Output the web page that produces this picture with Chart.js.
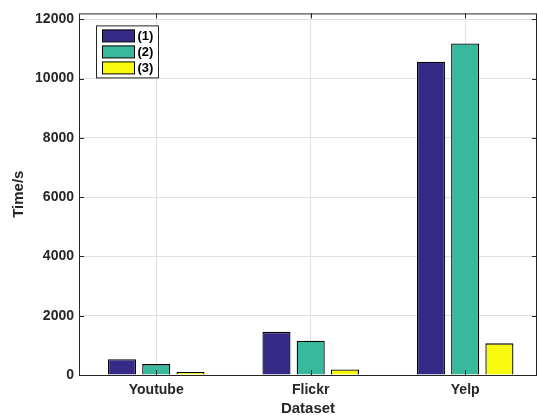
<!DOCTYPE html>
<html>
<head>
<meta charset="utf-8">
<script src="https://cdn.jsdelivr.net/npm/chart.js@4.4.1/dist/chart.umd.min.js"></script>
<style>
  body { margin: 0; background: #fff; }
  #wrap { width: 538px; height: 415px; position: relative; }
</style>
</head>
<body>
<div id="wrap"><canvas id="myChart"></canvas></div>
<script>
// data
var categories = ["Youtube", "Flickr", "Yelp"];
var seriesNames = ["(1)", "(2)", "(3)"];
var series1 = [534, 1455, 10568];
var series2 = [367, 1155, 11182];
var series3 = [100, 187, 1068];
var yTicks = [0, 2000, 4000, 6000, 8000, 10000, 12000];

var colors = ["#352a87", "#38b99d", "#f8fa0d"];
var axisColor = "#262626";
var fontFamily = "'Liberation Sans', Arial, sans-serif";

function toPoints(values) {
  return values.map(function (v, i) {
    return { x: i + 1, y: v };
  });
}

// box, inward ticks and legend, matlab style
var framePlugin = {
  id: "frame",
  afterDatasetsDraw: function (chart) {
    var ctx = chart.ctx;
    var a = chart.chartArea;
    var xs = chart.scales.x;
    var ys = chart.scales.y;
    ctx.save();
    ctx.strokeStyle = axisColor;
    ctx.lineWidth = 1;
    ctx.strokeRect(a.left + 0.5, a.top + 0.5, a.right - a.left - 1, a.bottom - a.top);
    ctx.beginPath();
    yTicks.forEach(function (t) {
      var y = Math.round(ys.getPixelForValue(t)) + 0.5;
      ctx.moveTo(a.left, y);
      ctx.lineTo(a.left + 5, y);
      ctx.moveTo(a.right - 5, y);
      ctx.lineTo(a.right, y);
    });
    categories.forEach(function (c, i) {
      var x = Math.round(xs.getPixelForValue(i + 1)) + 0.5;
      ctx.moveTo(x, a.top);
      ctx.lineTo(x, a.top + 5);
      ctx.moveTo(x, a.bottom - 5);
      ctx.lineTo(x, a.bottom);
    });
    ctx.stroke();

    // legend
    var bx = a.left + 17.5, by = a.top + 12.5;
    ctx.fillStyle = "#fff";
    ctx.fillRect(bx, by, 62, 52);
    ctx.strokeRect(bx, by, 62, 52);
    ctx.font = "bold 13px " + fontFamily;
    ctx.textBaseline = "middle";
    ctx.textAlign = "left";
    chart.data.datasets.forEach(function (ds, i) {
      var sy = by + 4 + i * 16;
      ctx.fillStyle = ds.backgroundColor;
      ctx.fillRect(bx + 6, sy, 32, 12);
      ctx.strokeStyle = "#000";
      ctx.strokeRect(bx + 6, sy, 32, 12);
      ctx.fillStyle = "#000";
      ctx.fillText(ds.label, bx + 41, sy + 6.5);
    });
    ctx.restore();
  },
};

document.addEventListener("DOMContentLoaded", function () {
  const ctx = document.getElementById("myChart");

  new Chart(ctx, {
    type: "bar",
    data: {
      datasets: [series1, series2, series3].map(function (vals, i) {
        return {
          label: seriesNames[i],
          data: toPoints(vals),
          backgroundColor: colors[i],
          borderColor: "#000",
          borderWidth: 1.3,
          categoryPercentage: 0.665,
          barPercentage: 0.82,
        };
      }),
    },
    options: {
      responsive: true,
      maintainAspectRatio: false,
      animation: false,
      devicePixelRatio: 1,
      layout: { padding: { top: 10, right: 1, bottom: 0, left: 0 } },
      plugins: {
        legend: { display: false },
        tooltip: { enabled: false },
      },
      scales: {
        x: {
          type: "linear",
          min: 0.5,
          max: 3.465,
          offset: false,
          grid: { color: "#e0e0e0", drawTicks: false, offset: false },
          border: { display: false },
          afterBuildTicks: function (s) {
            s.ticks = categories.map(function (c, i) {
              return { value: i + 1 };
            });
          },
          afterFit: function (s) {
            s.height = 40;
          },
          ticks: {
            padding: 7,
            color: axisColor,
            font: { family: fontFamily, size: 14, weight: "bold" },
            callback: function (v) {
              return categories[v - 1];
            },
          },
          title: {
            display: true,
            text: "Dataset",
            color: axisColor,
            padding: { top: 0, bottom: 0 },
            font: { family: fontFamily, size: 15, weight: "bold", lineHeight: 0.8 },
          },
        },
        y: {
          min: 0,
          max: 12200,
          grid: { color: "#e0e0e0", drawTicks: false },
          border: { display: false },
          afterBuildTicks: function (s) {
            s.ticks = yTicks.map(function (t) {
              return { value: t };
            });
          },
          afterFit: function (s) {
            s.width = 79;
          },
          ticks: {
            padding: 5,
            color: axisColor,
            font: { family: fontFamily, size: 14, weight: "bold" },
            callback: function (v) {
              return String(v);
            },
          },
          title: {
            display: true,
            text: "Time/s",
            color: axisColor,
            padding: { top: 10, bottom: 0 },
            font: { family: fontFamily, size: 15, weight: "bold" },
          },
        },
      },
    },
    plugins: [framePlugin],
  });
});
</script>
</body>
</html>
